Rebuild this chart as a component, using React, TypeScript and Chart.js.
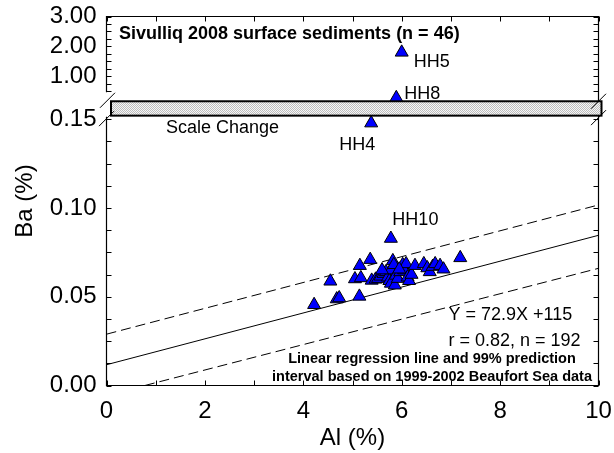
import React, { useEffect, useRef } from 'react';
import { Chart, registerables } from 'chart.js';

Chart.register(...registerables);

const FONT = "'Liberation Sans', Arial, Helvetica, sans-serif";

// ---------- data (Al %, Ba %) ----------
// first four samples are the labelled outliers
const pointLabels = ['HH5', 'HH8', 'HH4', 'HH10'];

const alValues = [
  6.0, 5.89, 5.38, 5.78,
  4.22, 4.55, 4.68, 4.73, 5.14, 5.05, 5.15, 5.17, 5.36, 5.39,
  5.47, 5.52, 5.57, 5.63, 5.68, 5.72, 5.75, 5.78, 5.82, 5.84,
  5.78, 5.86, 5.88, 5.92, 5.97, 6.02, 6.05, 6.09, 6.12, 6.15,
  6.20, 6.27, 6.45, 6.52, 6.57, 6.63, 6.68, 6.78, 6.85, 7.19,
  5.60, 5.95,
];

const baValues = [
  1.80, 0.28, 0.1478, 0.0828,
  0.0455, 0.0587, 0.0487, 0.0493, 0.0502, 0.0600, 0.0675, 0.0606, 0.0709, 0.0592,
  0.0598, 0.0602, 0.0615, 0.0630, 0.0640, 0.0610, 0.0590, 0.0650, 0.0702, 0.0680,
  0.0575, 0.0565, 0.0620, 0.0602, 0.0640, 0.0680, 0.0650, 0.0685, 0.0610, 0.0590,
  0.0625, 0.0675, 0.0685, 0.0662, 0.0640, 0.0670, 0.0685, 0.0675, 0.0655, 0.0719,
  0.0650, 0.0655,
];

// regression line and 99% prediction interval (1999-2002 Beaufort Sea data)
const regressionX = [0, 10];
const regressionY = [0.0117, 0.0846];
const upperPiX = [0, 10];
const upperPiY = [0.0289, 0.1017];
const lowerPiX = [0.78, 10];
const lowerPiY = [0, 0.066];

// axis ticks
const xTickValues = [0, 2, 4, 6, 8, 10];
const xTickLabels = ['0', '2', '4', '6', '8', '10'];
const yTickValues = [0, 0.05, 0.1, 0.15, 1, 2, 3];
const yTickLabels = ['0.00', '0.05', '0.10', '0.15', '1.00', '2.00', '3.00'];
const xMinorTicks = [0, 1, 2, 3, 4, 5, 6, 7, 8, 9, 10];
const yMinorLower = Array.from({ length: 13 }, (_, i) => i * 0.0125);
const yMinorUpper = Array.from({ length: 11 }, (_, i) => 0.5 + i * 0.25);

// ---------- broken axis transform ----------
const LOWER_MAX = 0.152; // Ba value at the bottom edge of the break band
const UPPER_MIN = 0.163; // Ba value at the top edge of the break band
const BAND_SPAN = 0.0081; // display units occupied by the band
const UPPER_FACTOR = 0.01683; // display units per Ba unit in the upper part
const toDisplay = (ba: number) =>
  ba <= LOWER_MAX ? ba : LOWER_MAX + BAND_SPAN + (Math.max(ba, UPPER_MIN) - UPPER_MIN) * UPPER_FACTOR;
const Y_MAX = toDisplay(3.0);

const labelStyle: Record<string, { dx: number; dy: number; align: CanvasTextAlign }> = {
  HH5: { dx: 12, dy: 10, align: 'left' },
  HH8: { dx: 8, dy: -4, align: 'left' },
  HH4: { dx: -14, dy: 21.5, align: 'center' },
  HH10: { dx: 24.5, dy: -18.5, align: 'center' },
};

function makePattern(ctx: CanvasRenderingContext2D) {
  const c = document.createElement('canvas');
  c.width = 2;
  c.height = 2;
  const p = c.getContext('2d')!;
  p.fillStyle = '#f6f6f6';
  p.fillRect(0, 0, 2, 2);
  p.fillStyle = '#bdbdbd';
  p.fillRect(0, 0, 1, 1);
  p.fillRect(1, 1, 1, 1);
  return ctx.createPattern(c, 'repeat')!;
}

const brokenAxisPlugin = {
  id: 'brokenAxis',
  afterDatasetsDraw(chart: any) {
    const { ctx, chartArea, scales } = chart;
    const { left, right, top, bottom } = chartArea;
    const xs = scales.x;
    const ys = scales.y;
    const bandTop = ys.getPixelForValue(LOWER_MAX + BAND_SPAN);
    const bandBottom = ys.getPixelForValue(LOWER_MAX);
    ctx.save();
    ctx.strokeStyle = '#000';
    ctx.lineWidth = 1.2;

    // frame with a gap on the left for the break
    ctx.beginPath();
    ctx.moveTo(left, bandTop - 9);
    ctx.lineTo(left, top);
    ctx.lineTo(right, top);
    ctx.lineTo(right, bandTop);
    ctx.moveTo(right, bandBottom);
    ctx.lineTo(right, bottom);
    ctx.lineTo(left, bottom);
    ctx.lineTo(left, bandBottom + 1);
    ctx.stroke();

    // inward tick marks
    const tl = 5;
    ctx.lineWidth = 1;
    ctx.beginPath();
    xMinorTicks.forEach((v) => {
      const px = Math.round(xs.getPixelForValue(v)) + 0.5;
      ctx.moveTo(px, bottom);
      ctx.lineTo(px, bottom - tl);
      ctx.moveTo(px, top);
      ctx.lineTo(px, top + tl);
    });
    [...yMinorLower, ...yMinorUpper].forEach((v) => {
      const py = Math.round(ys.getPixelForValue(toDisplay(v))) + 0.5;
      ctx.moveTo(left, py);
      ctx.lineTo(left + tl, py);
      ctx.moveTo(right, py);
      ctx.lineTo(right - tl, py);
    });
    ctx.stroke();

    // break band
    ctx.fillStyle = makePattern(ctx);
    ctx.fillRect(left + 4.5, bandTop, right + 3 - (left + 4.5), bandBottom - bandTop);
    ctx.lineWidth = 2;
    ctx.strokeRect(left + 4.5, bandTop, right + 3 - (left + 4.5), bandBottom - bandTop);

    // break slashes
    ctx.lineWidth = 1;
    const slash = (cx: number, cy: number) => {
      ctx.moveTo(cx - 7.5, cy + 7.5);
      ctx.lineTo(cx + 7.5, cy - 7.5);
    };
    ctx.beginPath();
    slash(left + 1, bandTop - 1);
    slash(left, bandBottom + 3);
    slash(right, bandTop);
    slash(right, bandBottom + 2);
    ctx.stroke();

    // texts
    ctx.fillStyle = '#000';
    ctx.textBaseline = 'middle';
    ctx.textAlign = 'left';
    ctx.font = `bold 18px ${FONT}`;
    ctx.fillText('Sivulliq 2008 surface sediments (n = 46)', left + 12.5, top + 17.5);

    ctx.font = `18px ${FONT}`;
    ctx.fillText('Scale Change', left + 59.5, bandBottom + 12);

    pointLabels.forEach((name, i) => {
      const st = labelStyle[name];
      const px = xs.getPixelForValue(alValues[i]);
      const py = ys.getPixelForValue(toDisplay(baValues[i]));
      ctx.textAlign = st.align;
      ctx.fillText(name, px + st.dx, py + st.dy);
    });

    ctx.textAlign = 'left';
    ctx.fillText('Y = 72.9X +115', right - 150, bottom - 70.5);
    ctx.fillText('r = 0.82, n = 192', right - 150, bottom - 44);

    ctx.font = `bold 14.5px ${FONT}`;
    ctx.textAlign = 'center';
    ctx.fillText('Linear regression line and 99% prediction', right - 166.5, bottom - 26.5);
    ctx.fillText('interval based on 1999-2002 Beaufort Sea data', right - 166.5, bottom - 8.8);
    ctx.restore();
  },
};

export default function App() {
  const ref = useRef<HTMLCanvasElement>(null);

  useEffect(() => {
    if (!ref.current) return;
    const scatter = alValues.map((x, i) => ({ x, y: toDisplay(baValues[i]) }));
    const line = (xv: number[], yv: number[]) => xv.map((x, i) => ({ x, y: toDisplay(yv[i]) }));
    const tickFont = { family: FONT, size: 24 };

    const chart = new Chart(ref.current, {
      type: 'scatter',
      data: {
        datasets: [
          {
            label: 'Sivulliq 2008',
            data: scatter,
            pointStyle: 'triangle',
            pointRadius: 7.5,
            backgroundColor: '#0000ff',
            borderColor: '#000',
            borderWidth: 1,
          },
          {
            label: 'Regression',
            data: line(regressionX, regressionY),
            showLine: true,
            pointRadius: 0,
            borderColor: '#000',
            borderWidth: 1,
          },
          {
            label: 'Upper 99% PI',
            data: line(upperPiX, upperPiY),
            showLine: true,
            pointRadius: 0,
            borderColor: '#000',
            borderWidth: 1,
            borderDash: [10, 5],
          },
          {
            label: 'Lower 99% PI',
            data: line(lowerPiX, lowerPiY),
            showLine: true,
            pointRadius: 0,
            borderColor: '#000',
            borderWidth: 1,
            borderDash: [10, 5],
          },
        ],
      },
      options: {
        animation: false,
        responsive: false,
        devicePixelRatio: 1,
        layout: { padding: { top: 16.5, right: 15.5, left: 0, bottom: 0 } },
        plugins: { legend: { display: false }, tooltip: { enabled: false } },
        scales: {
          x: {
            type: 'linear',
            min: 0,
            max: 10,
            afterBuildTicks: (s: any) => {
              s.ticks = xTickValues.map((value) => ({ value }));
            },
            afterFit: (s: any) => {
              s.height = 67.5;
              s.paddingLeft = 0;
              s.paddingRight = 0;
              s.paddingTop = 0;
              s.paddingBottom = 0;
            },
            ticks: {
              callback: (_v: any, i: number) => xTickLabels[i],
              font: tickFont,
              color: '#000',
              padding: 11.5,
              autoSkip: false,
              maxRotation: 0,
            },
            grid: { display: false, drawTicks: false },
            border: { display: false },
            title: {
              display: true,
              text: 'Al (%)',
              font: tickFont,
              color: '#000',
              padding: { top: 0, bottom: 0 },
            },
          },
          y: {
            type: 'linear',
            min: 0,
            max: Y_MAX,
            afterBuildTicks: (s: any) => {
              s.ticks = yTickValues.map((v) => ({ value: toDisplay(v) }));
            },
            afterFit: (s: any) => {
              s.width = 106.5;
              s.paddingLeft = 0;
              s.paddingRight = 0;
              s.paddingTop = 0;
              s.paddingBottom = 0;
            },
            ticks: {
              callback: (_v: any, i: number) => yTickLabels[i],
              font: tickFont,
              color: '#000',
              padding: 10,
              autoSkip: false,
            },
            grid: { display: false, drawTicks: false },
            border: { display: false },
            title: {
              display: true,
              text: 'Ba (%)',
              font: tickFont,
              color: '#000',
              padding: { top: 10.5, bottom: 0 },
            },
          },
        },
      },
      plugins: [brokenAxisPlugin],
    } as any);

    return () => chart.destroy();
  }, []);

  return (
    <div style={{ position: 'fixed', left: 0, top: 0, width: 614, height: 453, background: '#fff' }}>
      <canvas ref={ref} width={614} height={453} style={{ display: 'block' }} />
    </div>
  );
}
